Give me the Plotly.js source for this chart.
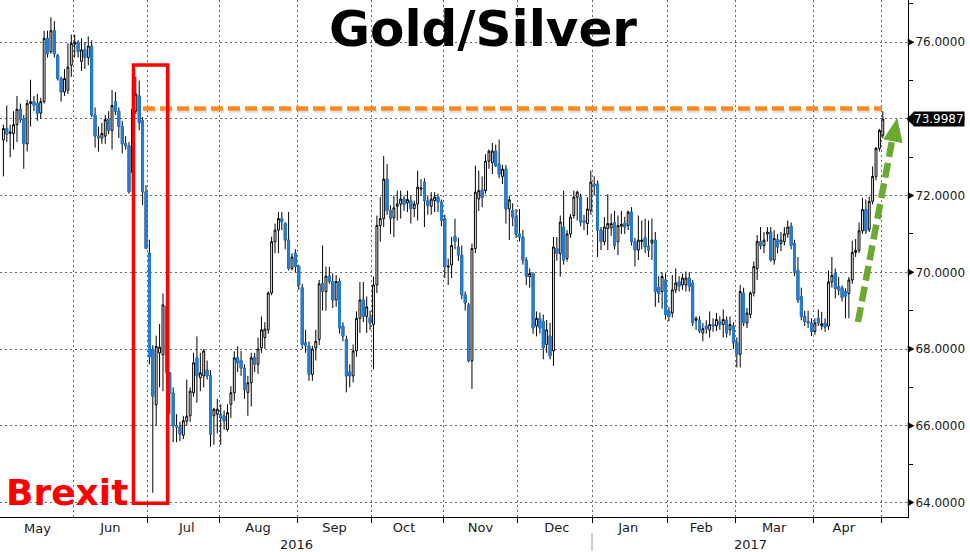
<!DOCTYPE html>
<html><head><meta charset="utf-8">
<script src="https://cdn.plot.ly/plotly-3.0.1.min.js"></script>
<style>html,body{margin:0;padding:0;background:#fff}#chart{width:970px;height:552px}</style>
</head><body><div id="chart"></div>
<script>
// ---- data (daily OHLC of the Gold/Silver ratio) ----
const firstDay = "2016-05-03";
const openP = [
73.45,73.75,73.62,73.62,73.85,74.25,74.0,73.35,74.4,74.45,74.4,74.15,74.45,76.1,75.75,76.3,75.65,75.05,74.7,74.75,75.4,
75.95,76.0,75.5,75.8,75.6,75.9,74.1,73.55,73.5,73.55,74.0,73.7,74.45,74.2,73.8,73.35,73.3,72.6,74.2,74.6,73.95,72.1,
70.5,67.98,66.55,67.9,67.85,69.1,67.38,66.85,66.0,65.97,65.75,66.12,66.26,66.86,67.77,67.25,67.3,67.45,67.3,66.26,66.3,
66.3,66.25,65.9,66.56,66.86,67.77,67.7,67.5,66.87,67.12,67.78,67.6,68.03,68.3,68.5,69.46,70.8,71.1,71.4,71.27,70.84,70.1,70.5,
70.15,69.6,68.16,68.08,67.34,68.03,68.25,69.7,69.5,69.9,69.76,69.28,69.76,68.6,68.25,67.4,67.3,67.95,68.8,69.28,68.85,68.82,
68.64,69.67,71.22,71.4,72.43,71.61,71.42,71.72,71.78,71.91,71.81,71.87,71.66,71.78,72.17,72.35,71.87,71.72,71.87,71.96,71.83,
71.4,70.14,70.19,70.94,70.66,70.45,69.41,69.15,67.69,70.62,71.91,72.15,72.13,72.9,72.86,73.16,72.82,72.5,72.69,71.65,71.61,71.44,
71.0,70.92,70.32,69.89,69.97,68.6,68.8,68.72,68.12,68.34,67.95,70.62,70.49,71.18,70.36,71.0,71.48,71.96,71.96,71.35,71.27,71.61,
72.3,72.3,71.1,70.8,71.14,71.16,71.3,70.8,71.2,71.28,71.22,71.57,70.8,70.58,70.8,70.9,70.68,70.76,70.84,69.6,69.5,69.8,
68.98,68.94,69.54,69.76,69.67,69.67,69.85,69.72,68.75,68.75,68.42,68.6,68.5,68.64,68.6,68.72,68.64,68.75,68.5,68.6,
68.16,67.86,69.46,68.68,68.9,69.46,70.1,70.8,70.7,71.0,71.05,70.32,70.85,70.75,70.8,71.0,71.2,70.75,70.05,69.36,68.85,68.72,68.68,
68.46,68.8,68.6,68.68,68.6,69.75,69.97,69.62,69.6,69.5,69.45,69.8,70.52,70.57,71.08,71.64,71.12,71.85,72.5,73.23,73.57
];
const highP = [
73.85,74.35,73.85,74.2,74.6,74.4,74.1,74.5,75.02,74.6,74.65,74.55,76.3,76.3,76.65,76.55,75.7,75.1,75.3,75.97,76.2,
76.2,76.05,76.1,76.0,76.15,76.05,74.3,73.8,73.9,74.1,74.2,74.75,74.7,74.3,73.95,73.55,73.4,75.1,75.1,75.0,74.05,72.27,
70.85,68.1,68.35,68.65,69.45,69.3,67.4,67.0,66.3,66.1,66.25,67.2,67.0,67.9,68.33,67.9,68.0,67.7,67.45,66.47,66.7,
66.56,66.4,66.56,67.03,67.94,68.07,67.95,67.6,67.3,67.9,67.9,68.3,68.85,68.7,69.5,70.93,71.27,71.57,71.57,71.31,71.57,70.5,70.6,
70.2,69.7,68.5,68.2,68.08,68.5,69.8,70.7,70.15,70.15,69.97,69.93,69.85,68.7,68.35,67.6,68.12,68.98,69.75,69.75,69.37,69.0,
69.89,71.48,71.96,73.03,72.82,71.75,72.0,72.13,72.13,72.0,72.13,72.0,71.87,72.65,72.43,72.45,72.0,72.09,72.09,72.05,71.9,
71.5,70.36,70.92,71.4,70.9,70.7,69.5,69.2,70.75,72.78,72.65,72.5,73.08,73.2,73.37,73.33,73.46,72.8,72.8,72.0,71.8,71.65,
71.65,71.1,70.4,70.1,70.0,68.98,68.95,68.9,68.76,68.68,70.92,70.92,71.48,72.13,71.1,71.52,72.13,72.13,72.05,71.5,71.96,72.65,
72.5,72.4,71.18,71.44,72.04,71.53,71.6,71.48,71.6,71.45,71.61,71.7,70.9,71.48,71.35,71.4,71.35,71.4,71.05,69.9,70.0,69.97,
69.1,69.93,70.1,69.9,69.97,70.02,70.0,69.8,68.85,68.85,68.68,68.75,68.98,68.8,68.94,68.85,69.03,68.85,68.85,68.7,
68.3,69.67,69.6,69.07,69.5,70.28,70.97,71.18,71.05,71.18,71.18,71.1,71.0,71.05,71.18,71.35,71.3,70.85,70.4,69.6,69.0,69.0,68.8,
68.8,69.03,68.97,68.8,70.05,70.4,70.1,69.88,69.66,69.58,69.88,70.82,70.87,71.3,71.94,71.9,71.98,72.76,73.27,73.74,74.2
];
const lowP = [
72.5,73.4,73.0,73.2,73.4,73.9,72.7,73.15,73.8,74.2,73.95,74.0,74.4,75.6,75.7,75.6,75.0,74.45,74.6,74.65,75.1,
75.6,75.6,75.25,75.3,75.4,74.05,73.25,73.15,73.35,73.35,73.6,73.2,74.1,73.5,73.1,73.2,72.05,72.1,74.13,73.7,71.75,70.6,
67.6,64.25,66.0,67.0,66.9,67.3,66.3,65.57,65.57,65.6,65.65,66.0,66.1,66.75,66.6,66.9,67.0,67.2,65.45,65.5,65.8,
65.5,65.9,65.85,66.2,66.65,67.4,67.3,66.7,66.26,66.5,67.4,67.35,67.9,68.0,68.4,69.4,70.5,70.5,71.1,70.6,70.05,70.05,70.0,
69.54,68.0,67.9,67.17,67.17,67.7,68.1,69.0,69.0,69.7,69.07,69.1,68.4,68.2,66.87,67.0,67.13,67.8,68.42,68.7,68.42,68.5,
67.47,69.46,70.8,71.18,71.5,71.0,70.92,71.35,71.4,71.6,71.57,71.27,71.44,71.35,72.0,71.18,71.5,71.5,71.57,71.57,71.2,
69.85,69.67,69.85,70.6,70.3,69.3,69.0,67.65,66.96,70.5,71.6,71.7,72.05,72.7,72.56,72.75,72.45,72.3,71.27,70.84,71.2,70.9,
70.8,70.2,69.67,69.6,68.4,68.33,68.4,67.73,67.9,67.73,67.56,70.3,69.89,70.2,70.28,70.9,71.4,71.35,71.2,71.1,70.97,71.5,
72.0,70.4,70.58,70.7,70.58,70.95,70.6,70.45,71.0,71.0,71.1,70.7,70.15,70.32,70.6,70.5,70.4,70.32,69.1,69.2,69.05,68.77,
68.72,68.82,69.46,69.5,69.54,69.5,69.5,68.6,68.5,68.42,68.2,68.4,68.3,68.45,68.47,68.5,68.3,68.3,68.35,68.0,
67.52,67.52,68.6,68.55,68.8,69.37,69.8,70.6,70.5,70.8,70.28,70.2,70.5,70.55,70.7,70.9,70.6,69.9,69.2,68.75,68.6,68.55,68.34,
68.37,68.6,68.5,68.45,68.5,69.6,69.32,69.4,69.24,68.8,68.8,69.7,70.4,70.5,71.0,71.0,71.05,71.77,72.4,73.15,73.5
];
const closeP = [
73.75,73.6,73.66,73.85,74.25,73.98,73.35,74.4,74.45,74.35,74.15,74.45,76.1,75.7,76.3,75.7,75.05,74.7,75.05,75.35,75.97,
76.0,75.75,75.8,75.6,75.9,74.1,73.55,73.5,73.62,73.98,73.7,74.35,74.2,73.8,73.35,73.3,72.1,74.25,74.65,73.9,72.1,70.62,
67.8,66.77,68.07,68.05,69.15,67.4,66.85,66.0,65.97,65.78,66.13,66.25,66.9,67.64,67.3,67.38,67.95,67.3,65.78,66.43,66.43,
66.2,66.12,66.34,66.86,67.77,67.64,67.5,66.95,67.12,67.77,67.6,68.0,68.5,68.52,69.46,70.8,71.1,71.4,71.32,70.84,70.1,70.4,70.15,
69.67,68.12,68.08,67.34,68.0,68.2,69.7,69.5,69.9,69.76,69.28,69.76,68.55,68.34,67.3,67.3,67.95,68.8,69.28,68.85,69.1,68.68,
69.67,71.22,71.4,72.43,71.61,71.4,71.68,71.78,71.91,71.77,71.9,71.66,71.78,72.22,72.2,71.87,71.74,71.91,71.96,71.83,71.35,
70.15,70.16,70.7,70.8,70.45,69.41,69.2,67.69,70.62,72.09,72.13,71.95,72.9,73.16,73.16,72.78,72.56,72.69,71.65,71.89,71.44,71.0,
70.92,70.32,69.89,69.97,68.55,68.8,68.55,68.03,68.5,67.82,70.66,70.49,71.31,70.32,71.0,71.44,71.96,72.09,71.31,71.3,71.65,72.35,
72.26,71.1,70.8,71.18,71.27,71.27,70.7,71.22,71.25,71.18,71.57,70.8,70.58,70.84,70.84,70.66,70.58,70.84,69.5,69.45,69.89,68.9,
68.85,69.54,69.72,69.63,69.85,69.85,69.63,68.68,68.8,68.47,68.53,68.53,68.64,68.6,68.77,68.64,68.77,68.42,68.64,68.16,
67.86,69.5,68.68,68.94,69.46,70.15,70.8,70.7,70.84,71.05,70.32,70.88,70.66,70.84,71.0,71.18,70.7,70.0,69.28,68.85,68.72,68.68,68.46,
68.68,68.68,68.66,68.57,69.75,69.92,69.58,69.54,69.34,69.38,69.8,70.52,70.57,71.08,71.64,71.08,71.85,72.5,73.23,73.7,73.9987
];
const yTickVals = [64, 66, 68, 70, 72, 74, 76];
const yTickText = ["64.0000", "66.0000", "68.0000", "70.0000", "72.0000", "74.0000", "76.0000"];
const lastPrice = 73.9987;
const lastPriceText = "73.9987";
const resistanceLevel = 74.27;
const titleText = "Gold/Silver";
const eventText = "Brexit";
const firstMonthLabel = "May";
const yearLabels = ["2016", "2017"];

// ---- trading-day dates (weekdays) for the x axis ----
function tradingDays(start, n) {
  const out = [];
  const d = new Date(start + "T12:00:00Z");
  while (out.length < n) {
    const wd = d.getUTCDay();
    if (wd !== 0 && wd !== 6) out.push(d.toISOString().slice(0, 10) + " 12:00");
    d.setUTCDate(d.getUTCDate() + 1);
  }
  return out;
}
const dates = tradingDays(firstDay, closeP.length);

const BLUE = "#2180DC";
// bodies of falling candles drawn again in blue (so the blue body has no black outline)
const bO = [], bH = [], bL = [], bC = [];
for (let i = 0; i < closeP.length; i++) {
  if (closeP[i] < openP[i]) { bO.push(openP[i]); bH.push(openP[i]); bL.push(closeP[i]); bC.push(closeP[i]); }
  else { bO.push(null); bH.push(null); bL.push(null); bC.push(null); }
}

const traces = [
  {
    type: "candlestick", x: dates, open: openP, high: highP, low: lowP, close: closeP,
    increasing: {line: {color: "#000", width: 1}, fillcolor: "#ffffff"},
    decreasing: {line: {color: "#000", width: 1}, fillcolor: BLUE},
    whiskerwidth: 0, hoverinfo: "skip", showlegend: false
  },
  {
    type: "candlestick", x: dates, open: bO, high: bH, low: bL, close: bC,
    increasing: {line: {color: BLUE, width: 1}, fillcolor: BLUE},
    decreasing: {line: {color: BLUE, width: 1}, fillcolor: BLUE},
    whiskerwidth: 0, hoverinfo: "skip", showlegend: false
  }
];

// pixel helpers for decorations (plot area 908 x 517)
const PW = 908, PH = 517;
const px = x => x / PW;
const py = y => 1 - y / PH;

const shapes = [];
// orange resistance dashed line (with faint shadow)
shapes.push({type: "line", xref: "paper", yref: "y", x0: px(144), x1: px(882), y0: resistanceLevel - 0.06, y1: resistanceLevel - 0.06,
  line: {color: "rgba(110,110,110,0.22)", width: 4, dash: "12px,5px"}});
shapes.push({type: "line", xref: "paper", yref: "y", x0: px(143), x1: px(882), y0: resistanceLevel, y1: resistanceLevel,
  line: {color: "#FF8C1A", width: 4.5, dash: "12px,5px"}});
// red box around the Brexit move
shapes.push({type: "rect", xref: "paper", yref: "paper", x0: px(133.5), x1: px(167.7), y0: py(503.3), y1: py(65),
  line: {color: "#FF0000", width: 3.6}, fillcolor: "rgba(0,0,0,0)"});
// green dashed arrow
shapes.push({type: "line", xref: "paper", yref: "paper", x0: px(858), y0: py(322), x1: px(892), y1: py(141),
  line: {color: "#6AAA2E", width: 6.5, dash: "15px,6px"}});
shapes.push({type: "path", xref: "paper", yref: "paper",
  path: `M ${px(897)} ${py(119)} L ${px(902)} ${py(142.5)} L ${px(884)} ${py(139)} Z`,
  fillcolor: "#6AAA2E", line: {color: "#6AAA2E", width: 1}});
// small black triangles at major y ticks
const triH = 3.2 / 38.35;
yTickVals.forEach(v => {
  shapes.push({type: "path", xref: "paper", yref: "y",
    path: `M ${px(908)} ${v + triH} L ${px(914)} ${v} L ${px(908)} ${v - triH} Z`,
    fillcolor: "#000", line: {color: "#000", width: 0.5}});
});
// last price tag pointer
const tagH = 6.6 / 38.35;
shapes.push({type: "path", xref: "paper", yref: "y",
  path: `M ${px(907)} ${lastPrice} L ${px(913.5)} ${lastPrice + tagH} L ${px(913.5)} ${lastPrice - tagH} Z`,
  fillcolor: "#000", line: {color: "#000", width: 0.5}});
// year separator below axis
shapes.push({type: "line", xref: "paper", yref: "paper", x0: px(592), x1: px(592), y0: py(533), y1: py(551),
  line: {color: "#9a9a9a", width: 1}});

const annotations = [
  {xref: "paper", yref: "paper", x: px(483.5), y: py(29), xanchor: "center", yanchor: "middle", showarrow: false,
    text: "<b>" + titleText + "</b>", font: {family: "DejaVu Sans", size: 50, color: "#000"}},
  {xref: "paper", yref: "paper", x: px(4), y: py(492), xanchor: "left", yanchor: "middle", showarrow: false,
    text: "<b>" + eventText + "</b>", font: {family: "DejaVu Sans", size: 36, color: "#FF0000"}},
  {xref: "paper", yref: "y", x: px(913), y: lastPrice, xanchor: "left", yanchor: "middle", showarrow: false,
    text: lastPriceText, bgcolor: "#000", borderpad: 0, font: {family: "DejaVu Sans", size: 12, color: "#fff"}},
  {xref: "paper", yref: "paper", x: px(37), y: py(528), xanchor: "center", yanchor: "middle", showarrow: false,
    text: firstMonthLabel, font: {family: "DejaVu Sans", size: 13, color: "#1a1a1a"}},
  {xref: "paper", yref: "paper", x: px(296), y: py(544), xanchor: "center", yanchor: "middle", showarrow: false,
    text: yearLabels[0], font: {family: "DejaVu Sans", size: 13, color: "#1a1a1a"}},
  {xref: "paper", yref: "paper", x: px(750), y: py(544), xanchor: "center", yanchor: "middle", showarrow: false,
    text: yearLabels[1], font: {family: "DejaVu Sans", size: 13, color: "#1a1a1a"}}
];

const layout = {
  width: 970, height: 552,
  margin: {l: 0, r: 62, t: 0, b: 35, pad: 0},
  paper_bgcolor: "#fff", plot_bgcolor: "#fff",
  showlegend: false, hovermode: false,
  boxgap: 0.45, boxgroupgap: 0, boxmode: "overlay",
  font: {family: "DejaVu Sans", size: 12, color: "#1a1a1a"},
  xaxis: {
    type: "date",
    range: ["2016-05-02 12:00", "2017-05-10 22:00"],
    rangebreaks: [{bounds: ["sat", "mon"]}],
    rangeslider: {visible: false},
    tick0: "2016-05-01", dtick: "M1", tickformat: "%b", ticklabelmode: "period",
    ticks: "outside", ticklen: 5, tickcolor: "#000", tickwidth: 1,
    ticklabelstandoff: -7,
    showline: true, linecolor: "#000", linewidth: 1,
    showgrid: true, gridcolor: "#6a6a6a", griddash: "2px,3px", gridwidth: 1,
    tickfont: {family: "DejaVu Sans", size: 13, color: "#1a1a1a"},
    zeroline: false, fixedrange: true
  },
  yaxis: {
    side: "right",
    range: [63.62, 77.1],
    tickmode: "array", tickvals: yTickVals, ticktext: yTickText,
    ticks: "outside", ticklen: 4, tickcolor: "#000", tickwidth: 1,
    minor: {tickmode: "linear", tick0: 0, dtick: 1, ticks: "outside", ticklen: 4, tickcolor: "#000", showgrid: false},
    showline: true, linecolor: "#000", linewidth: 1,
    showgrid: true, gridcolor: "#6a6a6a", griddash: "2px,3px", gridwidth: 1,
    tickfont: {family: "DejaVu Sans", size: 12, color: "#1a1a1a"},
    zeroline: false, fixedrange: true
  },
  shapes: shapes,
  annotations: annotations
};

Plotly.newPlot("chart", traces, layout, {staticPlot: true, displayModeBar: false});
</script>
</body></html>
